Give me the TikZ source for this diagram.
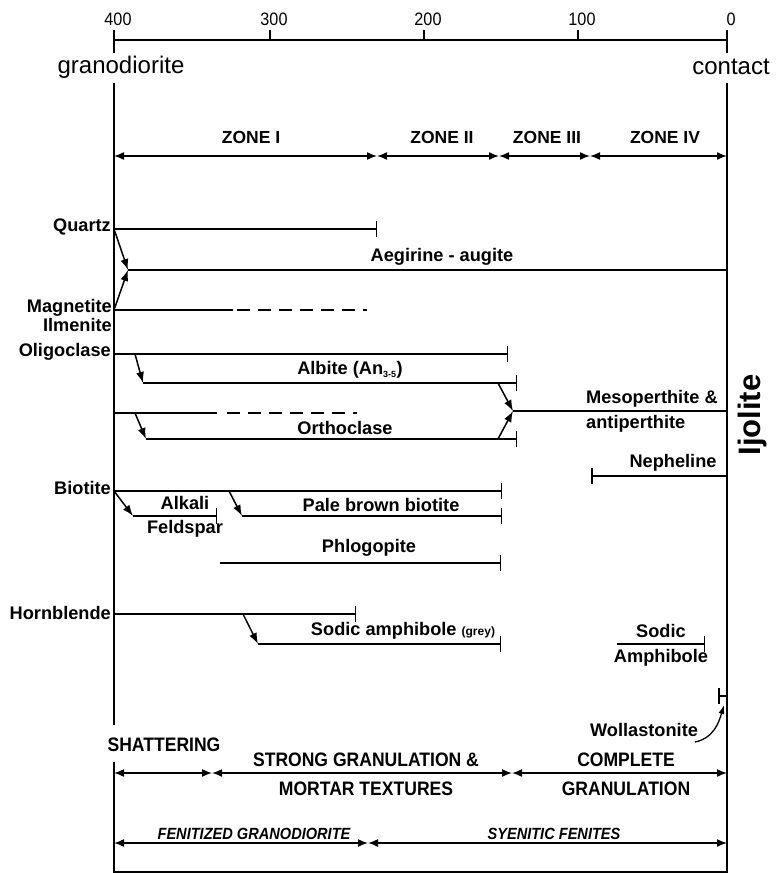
\documentclass[tikz,border=0pt]{standalone}
\usepackage{fontspec}
\setmainfont{Liberation Sans}
\newfontfamily\narrowsans[FakeStretch=0.9]{Liberation Sans}
\usetikzlibrary{arrows.meta}

\tikzset{
  tnum/.style={font=\narrowsans\fontsize{18}{20}\selectfont, inner sep=0pt},
  endlbl/.style={font=\fontsize{24}{26}\selectfont, inner sep=0pt},
  zonelbl/.style={font=\bfseries\fontsize{17.5}{19}\selectfont, inner sep=0pt},
  minlbl/.style={font=\bfseries\fontsize{18.2}{19}\selectfont, inner sep=0pt},
  texlbl/.style={font=\narrowsans\bfseries\fontsize{19.5}{29}\selectfont, inner sep=0pt, align=center},
  rocklbl/.style={font=\narrowsans\bfseries\itshape\fontsize{16.2}{18}\selectfont, inner sep=0pt},
  frame/.style={line width=1.5pt},
  mline/.style={line width=1.5pt},
  endbar/.style={-{Bar[width=16pt,line width=1.5pt]}},
  startbar/.style={{Bar[width=16pt,line width=1.5pt]}-},
  relic/.style={line width=1.5pt, dash pattern=on 13pt off 8pt},
  change/.style={line width=1.5pt, -{Latex[length=11pt,width=8pt]}},
  span/.style={line width=1.5pt, {Latex[length=10pt,width=8pt]}-{Latex[length=10pt,width=8pt]}},
}

\begin{document}
\begin{tikzpicture}[x=1pt,y=-1pt]
\useasboundingbox (0,0) rectangle (780,873);

% distance axis
\draw[frame] (114,40) -- (727,40);
\foreach \px/\d in {114/400,270/300,424/200,578/100,727/0} {
  \draw[frame] (\px,30) -- (\px,40);
  \node[tnum] (d\d) at (\px+4,19) {\d};
}
\node[endlbl] (gran) at (121,67) {granodiorite};
\node[endlbl] (cont) at (731,67) {contact};
\draw[frame] (114,40) -- (114,53);
\draw[frame] (727,40) -- (727,53);
\draw[frame] (114,83) -- (114,725);
\draw[frame] (114,762) -- (114,872) -- (727,872) -- (727,83);
\node[rotate=90,font=\bfseries\fontsize{31}{33}\selectfont,inner sep=0pt] (ijol) at (752,415) {Ijolite};

% zones
\draw[span] (114,156) -- (377,156);
\draw[span] (377,156) -- (499,156);
\draw[span] (499,156) -- (590,156);
\draw[span] (590,156) -- (727,156);
\node[zonelbl] (z1) at (251,137) {ZONE I};
\node[zonelbl] (z2) at (442,137) {ZONE II};
\node[zonelbl] (z3) at (547,137) {ZONE III};
\node[zonelbl] (z4) at (665,137) {ZONE IV};

% quartz, magnetite -> aegirine-augite
\coordinate (qz) at (114,229);
\coordinate (mt) at (114,310);
\coordinate (aeg) at (128,270);
\node[minlbl,anchor=east] (qzl) at (111,227) {Quartz};
\node[minlbl,anchor=east,align=right] (mtl) at (112,315) {Magnetite\\Ilmenite};
\draw[mline,endbar] (qz) -- (377,229);
\draw[mline] (mt) -- (233,310);
\draw[relic] (237,310) -- (367,310);
\draw[change] (qz) -- (aeg);
\draw[change] (mt) -- (aeg);
\draw[mline] (aeg) -- (727,270);
\node[minlbl] (aegl) at (442,257) {Aegirine - augite};

% feldspars
\coordinate (olig) at (114,354);
\coordinate (orth) at (114,413);
\coordinate (ab) at (143,383);
\coordinate (or) at (146,439);
\coordinate (meso) at (513,411);
\node[minlbl,anchor=east] (oligl) at (111,352) {Oligoclase};
\draw[mline,endbar] (olig) -- (508,354);
\draw[change] (135,354) -- (ab);
\draw[mline,endbar] (ab) -- (517,383);
\node[minlbl] (abl) at (350,370) {Albite (An\textsubscript{\fontsize{9}{9}\selectfont 3-5})};
\draw[mline] (orth) -- (217,413);
\draw[relic] (227,413) -- (357,413);
\draw[change] (135,413) -- (or);
\draw[mline,endbar] (or) -- (517,439);
\node[minlbl] (orl) at (345,428) {Orthoclase};
\draw[change] (498,383) -- (meso);
\draw[change] (498,439) -- (meso);
\draw[mline] (meso) -- (727,411);
\node[minlbl,anchor=west,align=left] (mesol) at (586,411) {Mesoperthite \&\\[6pt]antiperthite};

% nepheline
\draw[mline,startbar] (591,476) -- (727,476);
\node[minlbl] (nel) at (673,463) {Nepheline};

% micas
\coordinate (bt) at (114,491);
\coordinate (afs) at (133,516);
\coordinate (pbt) at (242,516);
\node[minlbl,anchor=east] (btl) at (111,488) {Biotite};
\draw[mline,endbar] (bt) -- (502,491);
\draw[change] (bt) -- (afs);
\draw[mline,endbar] (afs) -- (217,516);
\node[minlbl,align=center] (afsl) at (185,517) {Alkali\\[5pt]Feldspar};
\draw[change] (229,491) -- (pbt);
\draw[mline,endbar] (pbt) -- (502,516);
\node[minlbl] (pbtl) at (381,505) {Pale brown biotite};
\draw[mline,endbar] (220,563) -- (501,563);
\node[minlbl] (phl) at (369,548) {Phlogopite};

% amphiboles
\coordinate (hbl) at (114,614);
\coordinate (samp) at (258,644);
\node[minlbl,anchor=east] (hbll) at (111,613) {Hornblende};
\draw[mline,endbar] (hbl) -- (356,614);
\draw[change] (243,614) -- (samp);
\draw[mline,endbar] (samp) -- (501,644);
\node[minlbl] (sampl) at (403,631) {Sodic amphibole {\fontsize{12}{14}\selectfont (grey)}};
\draw[mline,endbar] (617,644) -- (705,644);
\node[minlbl,align=center] (samp2) at (661,645.5) {Sodic\\[6pt]Amphibole};

% wollastonite
\coordinate (wotip) at (724,705);
\draw[mline,startbar] (718,696) -- (727,696);
\node[minlbl] (wol) at (644,730) {Wollastonite};
\draw[line width=1.3pt,-{Latex[length=9pt,width=6pt]}] (695,742) .. controls (714,738) and (719,722) .. (wotip);

% textures
\draw[span] (114,773) -- (212,773);
\draw[span] (212,773) -- (512,773);
\draw[span] (512,773) -- (727,773);
\node[texlbl] (shat) at (164,745) {SHATTERING};
\node[texlbl] (strong) at (366,774.5) {STRONG GRANULATION \&\\MORTAR TEXTURES};
\node[texlbl] (compl) at (626,774.5) {COMPLETE\\GRANULATION};

% rock types
\draw[span] (114,843) -- (368,843);
\draw[span] (368,843) -- (727,843);
\node[rocklbl] (fen) at (254,834) {FENITIZED GRANODIORITE};
\node[rocklbl] (sye) at (554,834) {SYENITIC FENITES};
\end{tikzpicture}
\end{document}
